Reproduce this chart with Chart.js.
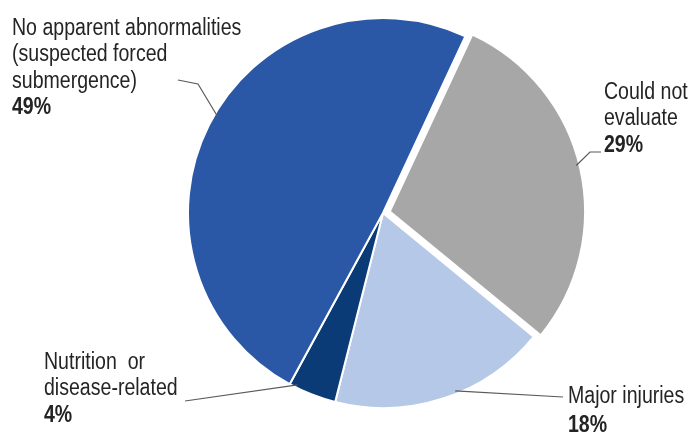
<!DOCTYPE html>
<html>
<head>
<meta charset="utf-8">
<script src="https://cdn.jsdelivr.net/npm/chart.js@4/dist/chart.umd.min.js"></script>
<style>
  html, body { margin: 0; padding: 0; background: #fff; }
  #wrap { width: 690px; height: 434px; position: relative; }
</style>
</head>
<body>
<div id="wrap"><canvas id="causeChart"></canvas></div>
<script>
// slices go clockwise, starting from the top-right edge
const categories = [
  'Could not evaluate',
  'Major injuries',
  'Nutrition or disease-related',
  'No apparent abnormalities (suspected forced submergence)'
];
const shares = [29, 18, 4, 49];
const labelLines = [
  ['Could not', 'evaluate'],
  ['Major injuries'],
  ['Nutrition  or', 'disease-related'],
  ['No apparent abnormalities', '(suspected forced', 'submergence)']
];
const sliceColors = ['#a7a7a7', '#b5c8e8', '#0b3b77', '#2b57a7'];

// where each callout sits: text origin, line baselines, leader polyline
const callouts = [
  { x: 604, baselines: [99, 125], pctY: 152, frac: 0.49, path: [[590, 152], [601, 152]] },
  { x: 568, baselines: [403], pctY: 432, frac: 0.44, path: [[563, 397]] },
  { x: 44, baselines: [369, 395], pctY: 422, frac: 0.85, path: [[185, 401]] },
  { x: 12, baselines: [35, 61, 88], pctY: 114, frac: 0.52, path: [[198, 84], [178, 80]] }
];

const textSquash = 0.85;

function squashText(ctx, str, x, y) {
  ctx.save();
  ctx.translate(x, y);
  ctx.scale(textSquash, 1);
  ctx.fillText(str, 0, 0);
  ctx.restore();
}

const calloutPlugin = {
  id: 'callouts',
  afterDraw(chart) {
    const ctx = chart.ctx;
    const arcs = chart.getDatasetMeta(0).data;
    ctx.save();
    arcs.forEach((arc, i) => {
      const c = callouts[i];
      // arcs shift by a quarter of their offset option when drawn
      const shift = (arc.options.offset || 0) / 4;
      const mid = (arc.startAngle + arc.endAngle) / 2;
      const cx = arc.x + Math.cos(mid) * shift;
      const cy = arc.y + Math.sin(mid) * shift;
      const a = arc.startAngle + (arc.endAngle - arc.startAngle) * c.frac;
      const r = arc.outerRadius - 3;

      ctx.strokeStyle = '#5a5a5a';
      ctx.lineWidth = 1.2;
      ctx.beginPath();
      ctx.moveTo(cx + Math.cos(a) * r, cy + Math.sin(a) * r);
      c.path.forEach(p => ctx.lineTo(p[0], p[1]));
      ctx.stroke();

      ctx.fillStyle = '#242424';
      ctx.textBaseline = 'alphabetic';
      ctx.textAlign = 'left';
      ctx.font = '23px "Liberation Sans", Arial, sans-serif';
      labelLines[i].forEach((line, k) => squashText(ctx, line, c.x, c.baselines[k]));
      ctx.font = 'bold 23px "Liberation Sans", Arial, sans-serif';
      squashText(ctx, shares[i] + '%', c.x, c.pctY);
    });
    ctx.restore();
  }
};

new Chart(document.getElementById('causeChart'), {
  type: 'pie',
  data: {
    labels: categories,
    datasets: [{
      data: shares,
      backgroundColor: sliceColors,
      borderColor: '#ffffff',
      borderWidth: 2,
      offset: [28, 0, 0, 0],
      hoverOffset: 0
    }]
  },
  options: {
    responsive: true,
    maintainAspectRatio: false,
    animation: false,
    rotation: 25,
    radius: 195,
    layout: { padding: { top: 13, bottom: 21, left: 133, right: 57 } },
    plugins: {
      legend: { display: false },
      tooltip: { enabled: false }
    }
  },
  plugins: [calloutPlugin]
});
</script>
</body>
</html>
